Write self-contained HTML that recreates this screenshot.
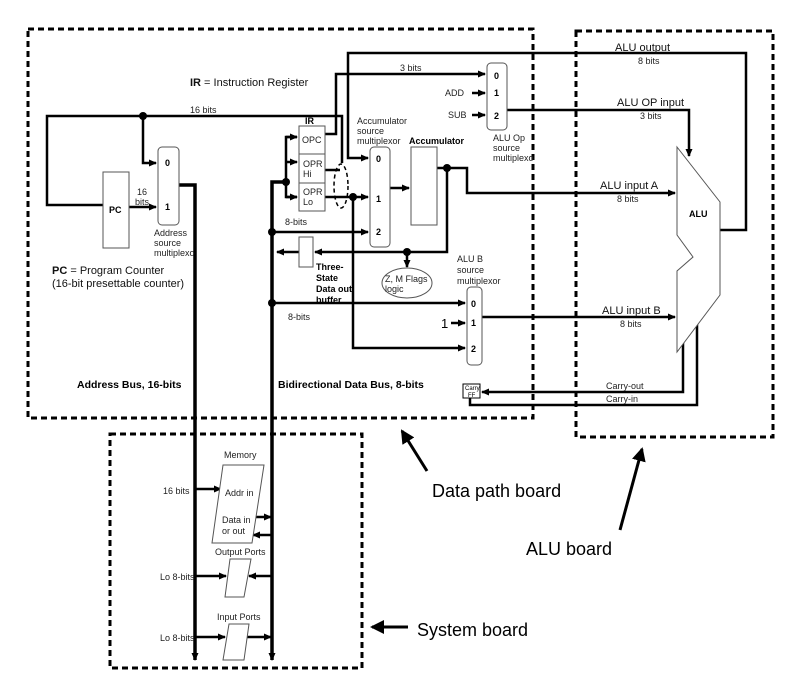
<!DOCTYPE html>
<html><head><meta charset="utf-8"><style>
html,body{margin:0;padding:0;background:#fff;}
svg{display:block;font-family:"Liberation Sans",sans-serif;}
</style></head><body>
<svg width="800" height="697" viewBox="0 0 800 697" xmlns="http://www.w3.org/2000/svg">
<defs>
<marker id="a" markerWidth="8" markerHeight="8" refX="7" refY="4" orient="auto" markerUnits="userSpaceOnUse"><path d="M0,0.5 L8,4 L0,7.5 z" fill="#000"/></marker>
<marker id="b" markerWidth="14" markerHeight="14" refX="12" refY="7" orient="auto" markerUnits="userSpaceOnUse"><path d="M0,0 L14,7 L0,14 z" fill="#000"/></marker>
</defs>
<g fill="none" stroke="#000" stroke-width="3" stroke-dasharray="6,4">
<rect x="28" y="29" width="505" height="389"/>
<rect x="576" y="31" width="197" height="406"/>
<rect x="110" y="434" width="252" height="234"/>
</g>
<g fill="none" stroke="#000" stroke-width="2.5">
<polyline points="103,205 47,205 47,116 342,116 342,163"/>
<polyline points="143,116 143,163 156,163" marker-end="url(#a)"/>
<line x1="129" y1="207" x2="156" y2="207" marker-end="url(#a)"/>
<polyline points="179,185 195,185 195,660" stroke-width="3.5" marker-end="url(#a)"/>
<polyline points="286,182 272,182 272,660" stroke-width="3.5" marker-end="url(#a)"/>
<polyline points="297,137 286,137 286,197 297,197" />
<line x1="286" y1="137" x2="297" y2="137" marker-end="url(#a)"/>
<line x1="286" y1="162" x2="297" y2="162" marker-end="url(#a)"/>
<line x1="286" y1="197" x2="297" y2="197" marker-end="url(#a)"/>
<polyline points="325,134 336,134 336,74 485,74" marker-end="url(#a)"/>
<polyline points="720,230 746,230 746,53 348,53 348,158 368,158" marker-end="url(#a)"/>
<line x1="325" y1="170" x2="340" y2="170"/>
<line x1="325" y1="197" x2="368" y2="197" marker-end="url(#a)"/>
<polyline points="353,197 353,348 465,348" marker-end="url(#a)"/>
<line x1="272" y1="232" x2="368" y2="232" marker-end="url(#a)"/>
<line x1="390" y1="188" x2="409" y2="188" marker-end="url(#a)"/>
<polyline points="437,168 467,168 467,193 675,193" marker-end="url(#a)"/>
<polyline points="447,168 447,252 315,252" marker-end="url(#a)"/>
<line x1="407" y1="252" x2="407" y2="267" marker-end="url(#a)"/>
<line x1="299" y1="252" x2="277" y2="252" marker-end="url(#a)"/>
<line x1="272" y1="303" x2="465" y2="303" marker-end="url(#a)"/>
<line x1="451" y1="323" x2="465" y2="323" marker-end="url(#a)"/>
<line x1="482" y1="317" x2="675" y2="317" marker-end="url(#a)"/>
<line x1="472" y1="93" x2="485" y2="93" marker-end="url(#a)"/>
<line x1="472" y1="115" x2="485" y2="115" marker-end="url(#a)"/>
<polyline points="507,110 689,110 689,156" marker-end="url(#a)"/>
<polyline points="683,330 683,392 482,392" marker-end="url(#a)"/>
<polyline points="470,398 470,405 697,405 697,309" marker-end="url(#a)"/>
<line x1="195" y1="489" x2="221" y2="489" marker-end="url(#a)"/>
<line x1="254" y1="517" x2="271" y2="517" marker-end="url(#a)"/>
<line x1="272" y1="535" x2="253" y2="535" marker-end="url(#a)"/>
<line x1="195" y1="576" x2="226" y2="576" marker-end="url(#a)"/>
<line x1="272" y1="576" x2="249" y2="576" marker-end="url(#a)"/>
<line x1="195" y1="637" x2="225" y2="637" marker-end="url(#a)"/>
<line x1="246" y1="637" x2="271" y2="637" marker-end="url(#a)"/>
</g>
<g fill="#000">
<circle cx="143" cy="116" r="4"/><circle cx="286" cy="182" r="4"/>
<circle cx="353" cy="197" r="4"/><circle cx="447" cy="168" r="4"/>
<circle cx="407" cy="252" r="4"/><circle cx="272" cy="232" r="4"/>
<circle cx="272" cy="303" r="4"/>
</g>
<ellipse cx="341" cy="186" rx="7" ry="22" fill="none" stroke="#000" stroke-width="1.5" stroke-dasharray="4,3"/>
<g fill="#fff" stroke="#555" stroke-width="1">
<rect x="103" y="172" width="26" height="76"/>
<rect x="158" y="147" width="21" height="78" rx="4"/>
<rect x="299" y="126" width="26" height="28"/>
<rect x="299" y="154" width="26" height="29"/>
<rect x="299" y="183" width="26" height="28"/>
<rect x="370" y="147" width="20" height="100" rx="4"/>
<rect x="411" y="147" width="26" height="78"/>
<rect x="299" y="237" width="14" height="30"/>
<ellipse cx="407" cy="283" rx="25" ry="15"/>
<rect x="467" y="287" width="15" height="78" rx="4"/>
<rect x="487" y="63" width="20" height="67" rx="4"/>
<rect x="463" y="384" width="17" height="14" stroke="#000"/>
<polygon points="677,147 720,202 720,295 677,352 677,271 693,257 677,235"/>
<polygon points="223,465 264,465 252,543 212,543"/>
<polygon points="230,559 251,559 244,597 225,597"/>
<polygon points="229,624 249,624 244,660 223,660"/>
</g>
<g font-size="9" fill="#222">
<text x="190" y="113">16 bits</text>
<text x="137" y="195">16</text><text x="135" y="205">bits</text>
<text x="154" y="236">Address</text><text x="154" y="246">source</text><text x="154" y="256">multiplexo</text>
<text x="302" y="143">OPC</text><text x="303" y="167">OPR</text><text x="303" y="177">Hi</text>
<text x="303" y="195">OPR</text><text x="303" y="205">Lo</text>
<text x="357" y="124">Accumulator</text><text x="357" y="134">source</text><text x="357" y="144">multiplexor</text>
<text x="400" y="71">3 bits</text>
<text x="445" y="96">ADD</text><text x="448" y="118">SUB</text>
<text x="493" y="141">ALU Op</text><text x="493" y="151">source</text><text x="493" y="161">multiplexo</text>
<text x="285" y="225">8-bits</text><text x="288" y="320">8-bits</text>
<text x="385" y="282">Z, M Flags</text><text x="385" y="292">logic</text>
<text x="457" y="262">ALU B</text><text x="457" y="273">source</text><text x="457" y="284">multiplexor</text>
<text x="638" y="64">8 bits</text><text x="640" y="119">3 bits</text>
<text x="617" y="202">8 bits</text><text x="620" y="327">8 bits</text>
<text x="606" y="389">Carry-out</text><text x="606" y="402">Carry-in</text>
<text x="224" y="458">Memory</text><text x="225" y="496">Addr in</text>
<text x="222" y="523">Data in</text><text x="222" y="534">or out</text>
<text x="163" y="494">16 bits</text>
<text x="215" y="555">Output Ports</text><text x="160" y="580">Lo 8-bits</text>
<text x="217" y="620">Input Ports</text><text x="160" y="641">Lo 8-bits</text>
</g>
<text x="465" y="390" font-size="6">Carry</text><text x="468" y="397" font-size="6">FF</text>
<g font-size="9" font-weight="bold" fill="#000">
<text x="109" y="213">PC</text><text x="305" y="124">IR</text>
<text x="165" y="166">0</text><text x="165" y="210">1</text>
<text x="376" y="162">0</text><text x="376" y="202">1</text><text x="376" y="235">2</text>
<text x="409" y="144">Accumulator</text>
<text x="494" y="79">0</text><text x="494" y="96">1</text><text x="494" y="119">2</text>
<text x="471" y="307">0</text><text x="471" y="326">1</text><text x="471" y="352">2</text>
<text x="316" y="270">Three-</text><text x="316" y="281">State</text><text x="316" y="292">Data out</text><text x="316" y="303">buffer</text>
<text x="689" y="217">ALU</text>
<text x="77" y="388" font-size="10.5">Address Bus, 16-bits</text>
<text x="278" y="388" font-size="10.5">Bidirectional Data Bus, 8-bits</text>
</g>
<g font-size="11" fill="#111">
<text x="190" y="86"><tspan font-weight="bold">IR</tspan> = Instruction Register</text>
<text x="52" y="274"><tspan font-weight="bold">PC</tspan> = Program Counter</text>
<text x="52" y="287">(16-bit presettable counter)</text>
<text x="615" y="51">ALU output</text><text x="617" y="106">ALU OP input</text>
<text x="600" y="189">ALU input A</text><text x="602" y="314">ALU input B</text>
</g>
<text x="441" y="328" font-size="13">1</text>
<g stroke="#000" stroke-width="3" fill="none">
<line x1="427" y1="471" x2="402" y2="431" marker-end="url(#b)"/>
<line x1="620" y1="530" x2="642" y2="449" marker-end="url(#b)"/>
<line x1="408" y1="627" x2="372" y2="627" marker-end="url(#b)"/>
</g>
<g font-size="18" fill="#000">
<text x="432" y="497">Data path board</text>
<text x="526" y="555">ALU board</text>
<text x="417" y="636">System board</text>
</g>
</svg>
</body></html>
